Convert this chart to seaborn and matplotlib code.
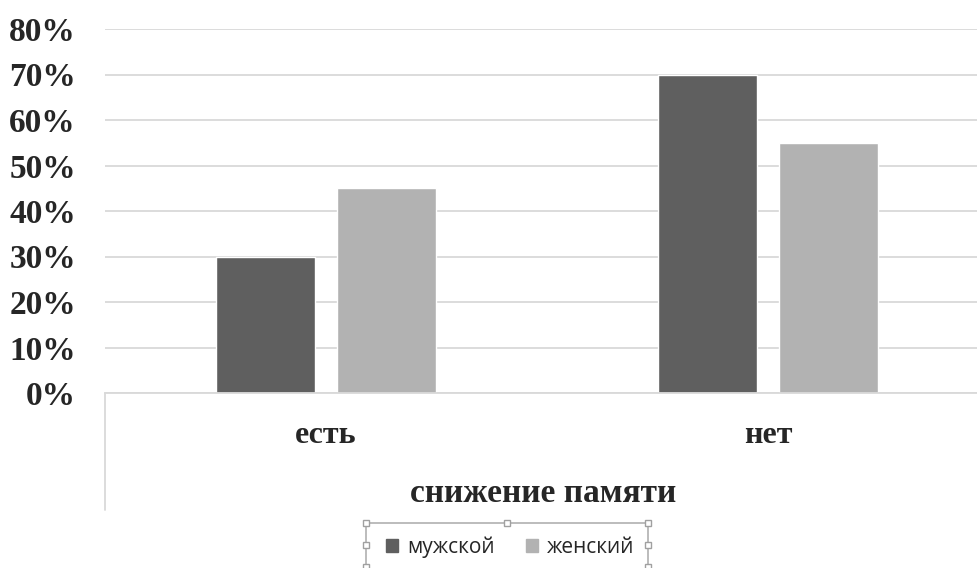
import matplotlib
matplotlib.use("Agg")
import matplotlib.pyplot as plt
import matplotlib.patches as mpatches
import seaborn as sns
import pandas as pd

# Data
categories = ["есть", "нет"]
series = ["мужской", "женский"]
male_values = [0.30, 0.70]
female_values = [0.45, 0.55]
y_ticks = [0.0, 0.1, 0.2, 0.3, 0.4, 0.5, 0.6, 0.7, 0.8]
x_title = "снижение памяти"

colors = {"мужской": "#5f5f5f", "женский": "#b2b2b2"}

df = pd.DataFrame({
    "category": categories * 2,
    "sex": [series[0]] * len(categories) + [series[1]] * len(categories),
    "value": male_values + female_values,
})

sns.set_style("white")
plt.rcParams["font.family"] = ["Liberation Serif", "DejaVu Serif"]

W, H = 978, 568
fig = plt.figure(figsize=(W / 100, H / 100), dpi=100)
left, right, top, bottom = 105, 989, 29, 393
ax = fig.add_axes([left / W, 1 - bottom / H, (right - left) / W, (bottom - top) / H])

sns.barplot(
    data=df, x="category", y="value", hue="sex", order=categories,
    hue_order=series, palette=colors, width=0.544, gap=0.176,
    ax=ax, legend=False, saturation=1, errorbar=None,
)

ax.set_ylim(0, 0.8)
ax.set_yticks(y_ticks)
ax.set_yticklabels([f"{int(round(t * 100))}%" for t in y_ticks],
                   fontsize=24, fontweight="bold")
ax.tick_params(axis="y", length=0, pad=21)
ax.tick_params(axis="x", length=0, pad=20, labelsize=23)
for lbl in ax.get_xticklabels():
    lbl.set_fontweight("bold")
ax.set_xlabel("")
ax.set_ylabel("")
ax.grid(axis="y", color="#d9d9d9", linewidth=1.3)
ax.set_axisbelow(True)
for s in ["top", "right", "left"]:
    ax.spines[s].set_visible(False)
ax.spines["bottom"].set_color("#d9d9d9")
ax.spines["bottom"].set_linewidth(1.3)

# vertical divider line below the plot, Excel style
fig.add_artist(plt.Line2D([left / W, left / W], [1 - bottom / H, 1 - 510 / H],
                          color="#d9d9d9", linewidth=1.3))

fig.text(543 / W, 1 - 493 / H, x_title, ha="center", va="center",
         fontsize=24, fontweight="bold")

# legend
handles = [mpatches.Patch(color=colors[s], label=s) for s in series]
leg = fig.legend(handles=handles, loc="center", bbox_to_anchor=(510 / W, 1 - 547 / H),
                 ncol=2, frameon=False, handlelength=0.6, handleheight=0.6,
                 handletextpad=0.4, columnspacing=1.5,
                 prop={"family": ["Open Sans", "DejaVu Sans"], "size": 15})

# selection frame with handles around the legend
fx0, fx1, fy0 = 366, 648, 523
fig.add_artist(plt.Line2D([fx0 / W, fx1 / W], [1 - fy0 / H, 1 - fy0 / H],
                          color="#b0b0b0", linewidth=1.2))
for x in (fx0, fx1):
    fig.add_artist(plt.Line2D([x / W, x / W], [1 - fy0 / H, 0],
                              color="#b0b0b0", linewidth=1.2))
for (x, y) in [(fx0, fy0), (507, fy0), (fx1, fy0), (fx0, 545), (fx1, 545), (fx0, 567), (fx1, 567)]:
    fig.add_artist(plt.Line2D([x / W], [1 - y / H], marker="s", markersize=5,
                              markerfacecolor="white", markeredgecolor="#a0a0a0",
                              markeredgewidth=1))

fig.savefig("out.png", dpi=100, facecolor="white")
